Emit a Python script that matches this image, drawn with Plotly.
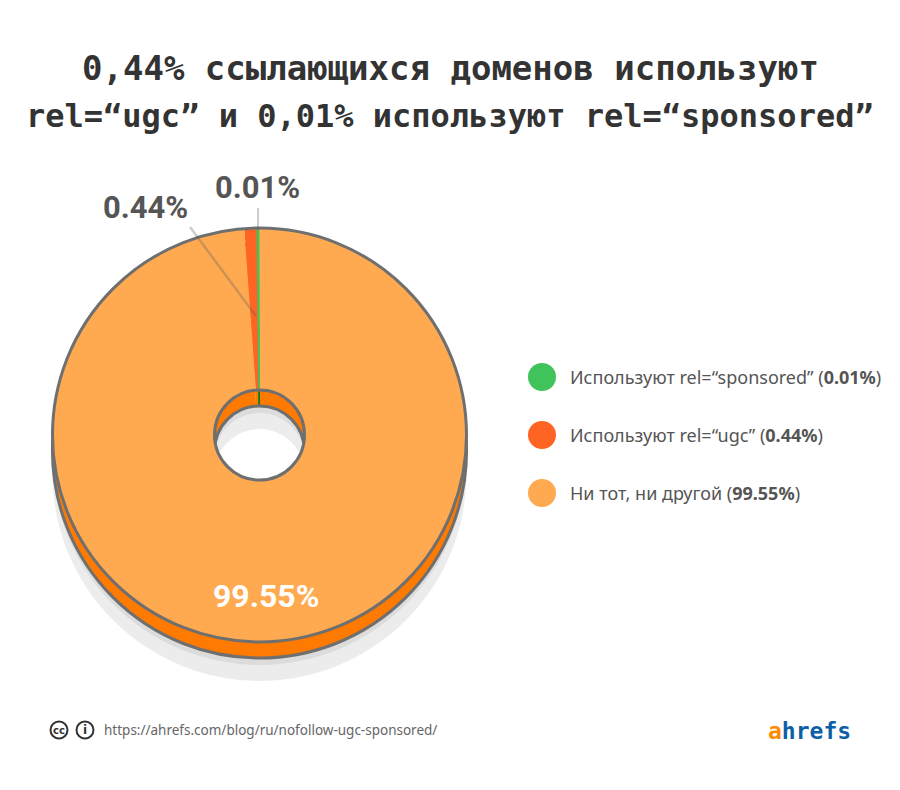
import plotly.graph_objects as go

W, H = 900, 790

# Data
slice_labels = ["Ни тот, ни другой", "Используют rel=“ugc”", "Используют rel=“sponsored”"]
value_labels = ["99.55%", "0.44%", "0.01%"]
# Shares as drawn in the picture: the small wedges are exaggerated there
drawn_shares = [98.9, 1.0, 0.1]
slice_colors = ["#ffaa50", "#ff6424", "#3fc35a"]
depth_colors = ["#ff7a00", "#ff7a00", "#0b7d25"]
legend_texts = [
    "Используют rel=“sponsored” (<b>0.01%</b>)",
    "Используют rel=“ugc” (<b>0.44%</b>)",
    "Ни тот, ни другой (<b>99.55%</b>)",
]
legend_colors = ["#3fc35a", "#ff6424", "#ffaa50"]
title_lines = ["0,44% ссылающихся доменов используют", "rel=“ugc” и 0,01% используют rel=“sponsored”"]
source_url = "https://ahrefs.com/blog/ru/nofollow-ugc-sponsored/"

CX, CY, R = 259.5, 435, 207
HOLE = 45 / 207
GRAY = "#6f6f6f"
ROT = -0.25


def px(x):
    return x / W


def py(y):
    return 1 - y / H


def dom(cy):
    return dict(x=[px(CX - R), px(CX + R)], y=[py(cy + R), py(cy - R)])


def ring(cy, fill, line=None, lw=0):
    return go.Pie(values=[1], hole=HOLE, domain=dom(cy), sort=False, textinfo="none", hoverinfo="skip",
                  showlegend=False, marker=dict(colors=[fill], line=dict(color=line or "rgba(0,0,0,0)", width=lw)))


fig = go.Figure()
fig.add_trace(ring(474, "rgba(0,0,0,0.075)"))
fig.add_trace(ring(458, "rgba(0,0,0,0.065)"))
fig.add_trace(go.Pie(values=drawn_shares, labels=slice_labels, hole=HOLE, domain=dom(451), sort=False,
                     direction="clockwise", rotation=ROT, textinfo="none", hoverinfo="skip", showlegend=False,
                     marker=dict(colors=depth_colors, line=dict(color=depth_colors, width=[0, 0, 1.5]))))
fig.add_trace(ring(451, "rgba(0,0,0,0)", GRAY, 3))
fig.add_trace(go.Pie(values=drawn_shares, labels=slice_labels, hole=HOLE, domain=dom(CY), sort=False,
                     direction="clockwise", rotation=ROT, textinfo="none", hoverinfo="skip", showlegend=False,
                     marker=dict(colors=slice_colors, line=dict(color=slice_colors, width=[0, 0, 1.5]))))
fig.add_trace(ring(CY, "rgba(0,0,0,0)", GRAY, 3))

ann = []


def text(x, y, s, size, color, family, anchor="center"):
    ann.append(dict(x=px(x), y=py(y), xref="paper", yref="paper", text=s, showarrow=False, xanchor=anchor,
                    yanchor="middle", font=dict(size=size, color=color, family=family)))


MONO = "DejaVu Sans Mono"
text(450, 68, "<b>%s</b>" % title_lines[0], 34, "#333333", MONO)
text(450, 116, "<b>%s</b>" % title_lines[1], 32, "#333333", MONO)

LABEL = "Roboto"
text(266, 596, "<b>%s</b>" % value_labels[0], 32, "#ffffff", LABEL)
text(145, 207, "<b>%s</b>" % value_labels[1], 31, "#555555", LABEL)
text(257, 187, "<b>%s</b>" % value_labels[2], 31, "#555555", LABEL)

shapes = []
shapes.append(dict(type="line", xref="paper", yref="paper", x0=px(190), y0=py(227), x1=px(256), y1=py(316),
                   line=dict(color="rgba(90,90,90,0.3)", width=2.5)))
shapes.append(dict(type="line", xref="paper", yref="paper", x0=px(258), y0=py(208), x1=px(258), y1=py(230),
                   line=dict(color="rgba(90,90,90,0.3)", width=2)))

for y, c, t in zip([377, 435, 493], legend_colors, legend_texts):
    shapes.append(dict(type="circle", xref="paper", yref="paper", x0=px(528), x1=px(556), y0=py(y - 14), y1=py(y + 14),
                       fillcolor=c, line=dict(width=0)))
    text(568, y, t, 18, "#555555", "Noto Sans", "left")

for x in (59, 85):
    shapes.append(dict(type="circle", xref="paper", yref="paper", x0=px(x - 8.5), x1=px(x + 8.5), y0=py(730 - 8.5),
                       y1=py(730 + 8.5), line=dict(color="#333333", width=2), fillcolor="#ffffff"))
text(59, 730, "<b>cc</b>", 10, "#333333", "DejaVu Sans")
text(85, 730, "<b>i</b>", 12, "#333333", "DejaVu Sans")
text(102, 730, source_url, 13.5, "#666666", "Noto Sans", "left")
text(809, 731, '<b><span style="color:#ff8a00">a</span><span style="color:#0d5fa6">hrefs</span></b>', 23, "#0d5fa6", MONO)

fig.update_layout(width=W, height=H, margin=dict(l=0, r=0, t=0, b=0), paper_bgcolor="#ffffff",
                  plot_bgcolor="#ffffff", annotations=ann, shapes=shapes, showlegend=False)
fig.write_html("out.html", config=dict(displayModeBar=False),
               post_script="document.body.style.margin='0';document.body.style.overflow='hidden';")
